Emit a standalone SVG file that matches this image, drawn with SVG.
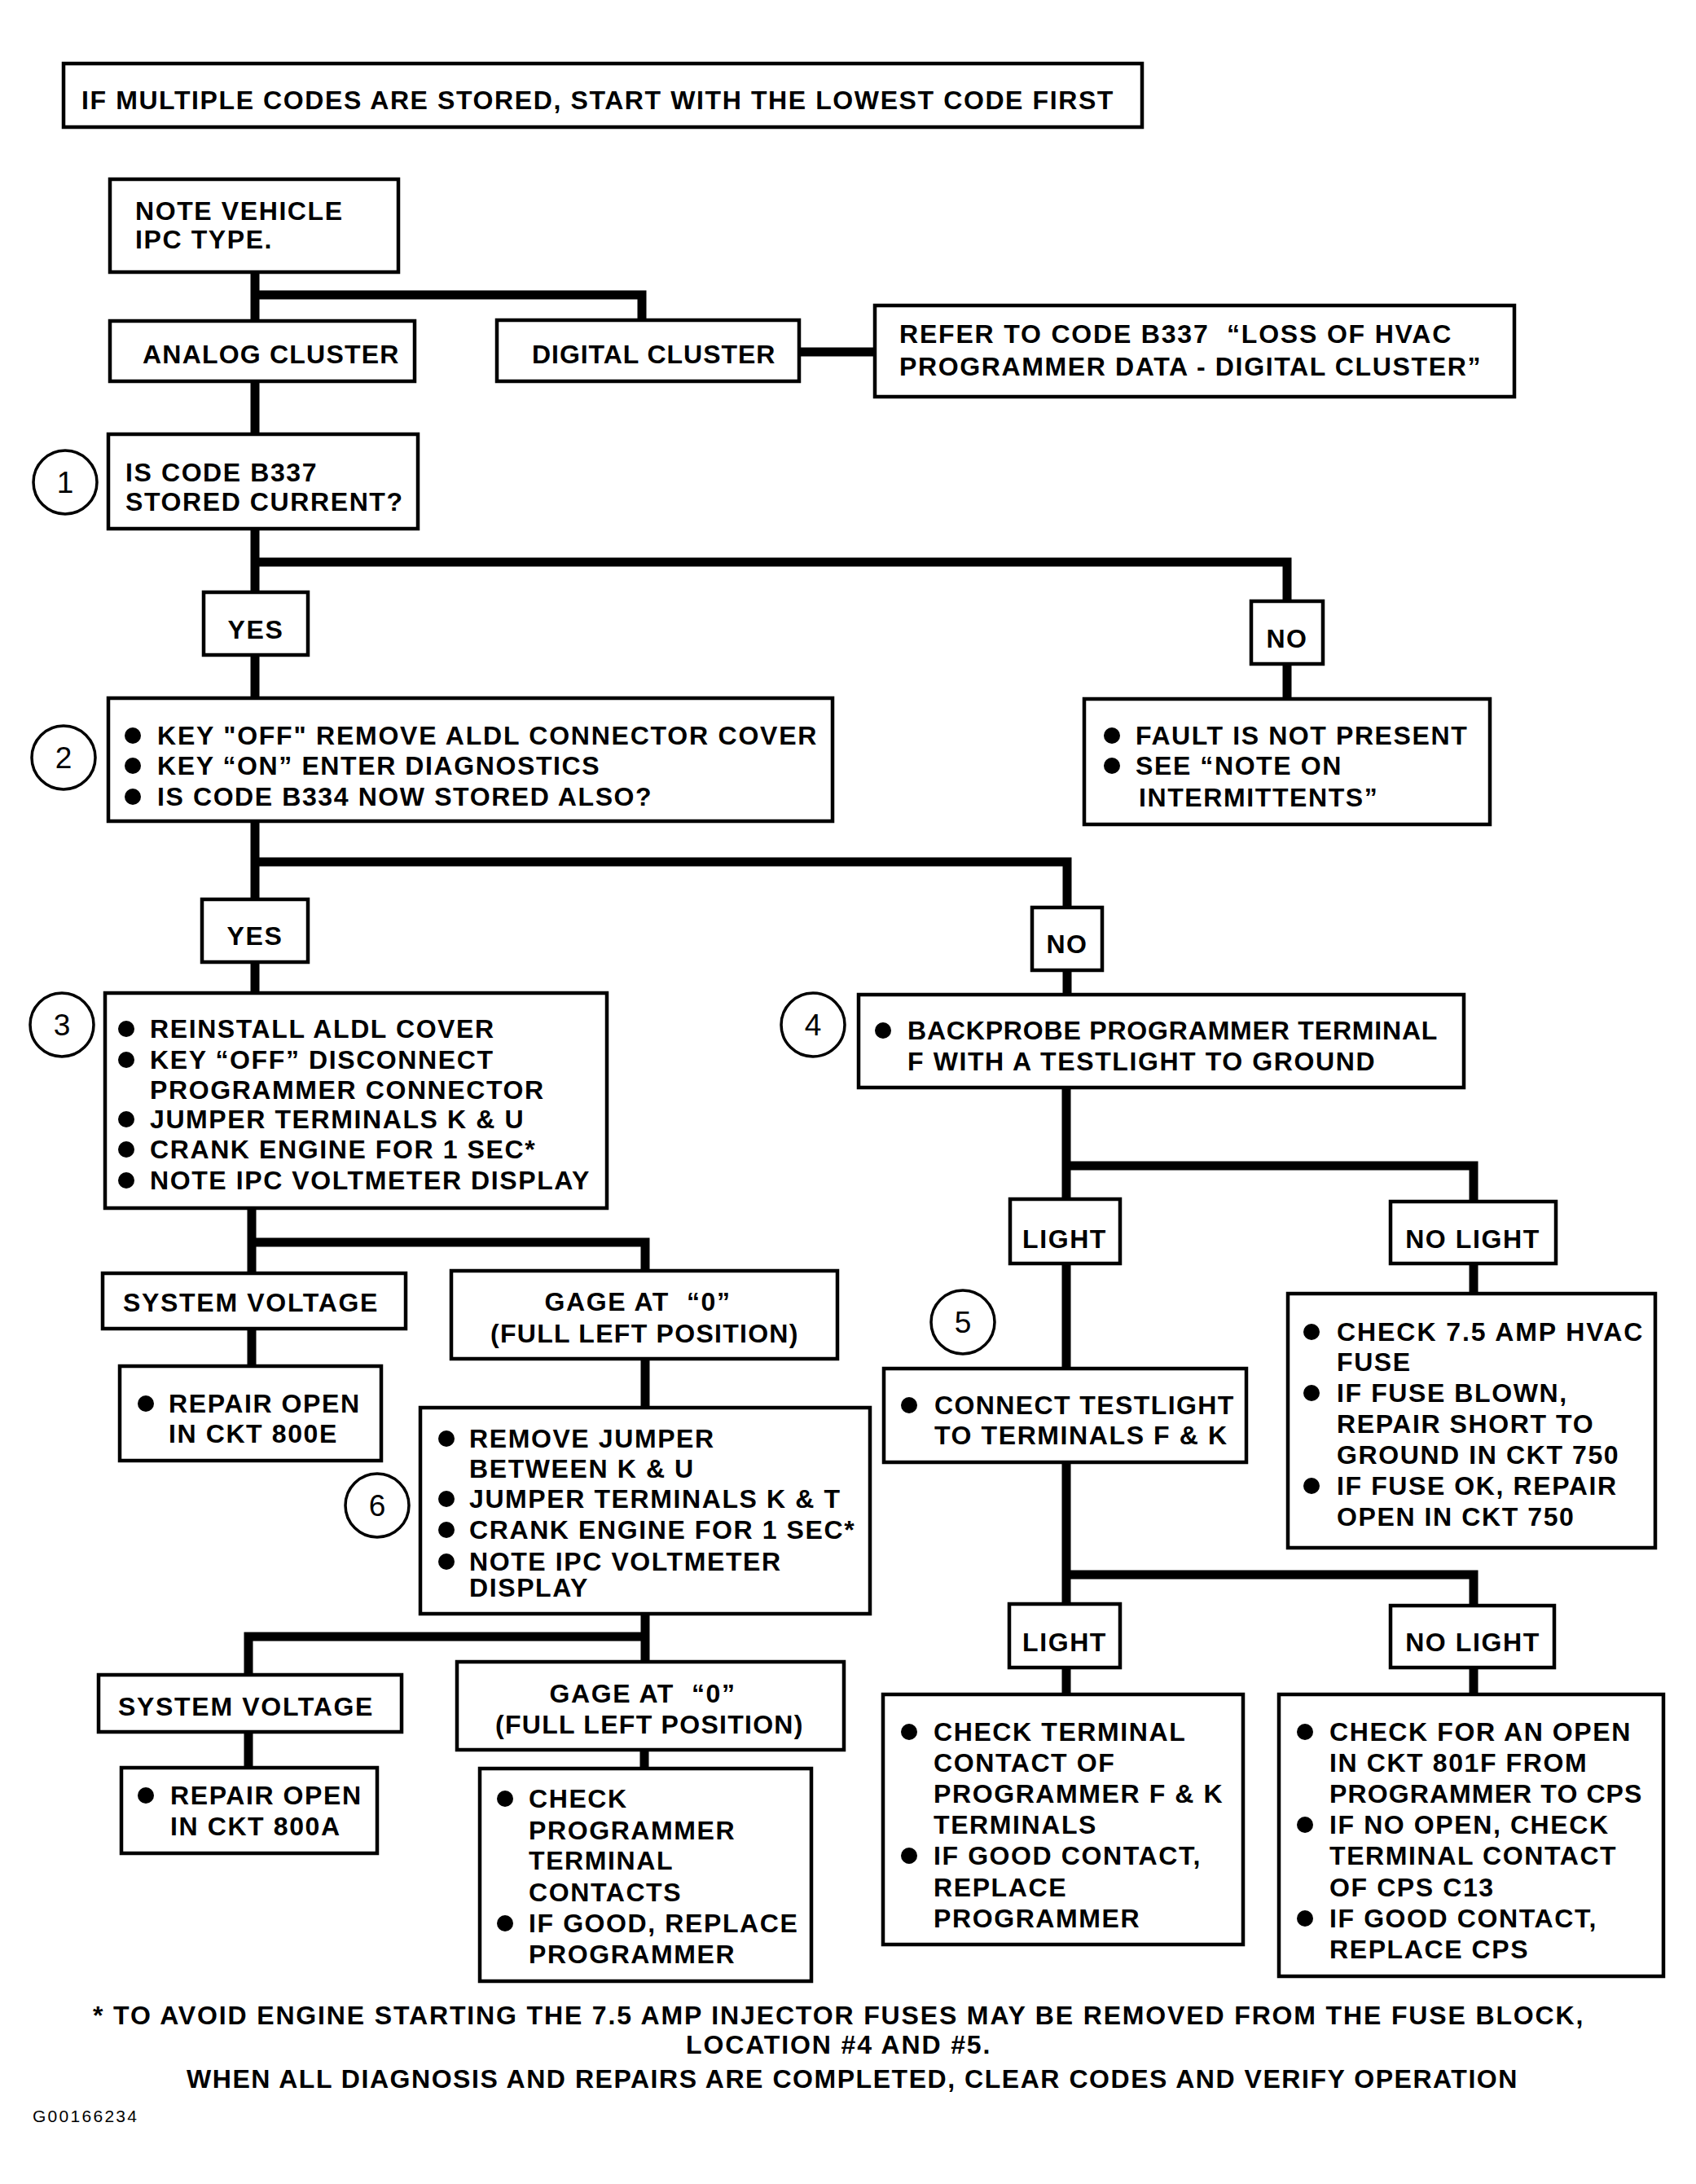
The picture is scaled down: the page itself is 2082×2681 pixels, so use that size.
<svg xmlns="http://www.w3.org/2000/svg" width="2082" height="2681" viewBox="0 0 2082 2681">
<style>
rect.b{fill:#fff;stroke:#000;stroke-width:4.5}
.t{font-family:"Liberation Sans",Arial,sans-serif;font-weight:bold;font-size:32px;letter-spacing:1.6px;fill:#000}
.c{text-anchor:middle}
.n{font-family:"Liberation Sans",Arial,sans-serif;font-size:37px;fill:#000;text-anchor:middle}
circle.s{fill:none;stroke:#000;stroke-width:3.5}
circle.d{fill:#000}
#connectors path{fill:none;stroke:#000;stroke-width:11;stroke-linecap:square;stroke-linejoin:miter}
</style>
<rect width="2082" height="2681" fill="#fff"/>
<g id="connectors">
<path d="M313 334V394M313 362H788V393"/>
<path d="M981 432H1074"/>
<path d="M313 468V533"/>
<path d="M313 649V727M313 690H1580V738"/>
<path d="M313 804V857"/>
<path d="M1580 815V858"/>
<path d="M313 1008V1104M313 1058H1310V1114"/>
<path d="M313 1181V1219"/>
<path d="M1310 1191V1221"/>
<path d="M309 1483V1563M309 1525H792V1560"/>
<path d="M309 1631V1677"/>
<path d="M792 1668V1728"/>
<path d="M792 1981V2040M792 2009H305V2056"/>
<path d="M305 2126V2170"/>
<path d="M791 2148V2171"/>
<path d="M1309 1335V1472M1309 1431H1809V1475"/>
<path d="M1309 1551V1680"/>
<path d="M1809 1551V1588"/>
<path d="M1309 1795V1969M1309 1933H1809V1971"/>
<path d="M1309 2047V2080"/>
<path d="M1809 2047V2080"/>
</g>
<g id="banner"><rect class="b" x="78" y="78" width="1324" height="78"/><text class="t" x="100" y="134" textLength="1268">IF MULTIPLE CODES ARE STORED, START WITH THE LOWEST CODE FIRST</text></g>
<g id="note"><rect class="b" x="135" y="220" width="354" height="114"/><text class="t" x="166" y="270">NOTE VEHICLE</text><text class="t" x="166" y="305">IPC TYPE.</text></g>
<g id="analog"><rect class="b" x="135" y="394" width="374" height="74"/><text class="t" x="175" y="446" textLength="316">ANALOG CLUSTER</text></g>
<g id="digital"><rect class="b" x="610" y="393" width="371" height="75"/><text class="t" x="653" y="446" textLength="300">DIGITAL CLUSTER</text></g>
<g id="refer"><rect class="b" x="1074" y="375" width="785" height="112"/><text class="t" x="1104" y="421" textLength="679">REFER TO CODE B337&#160; “LOSS OF HVAC</text><text class="t" x="1104" y="461" textLength="715">PROGRAMMER DATA - DIGITAL CLUSTER”</text></g>
<g id="step1"><circle class="s" cx="80" cy="592" r="39"/><text class="n" x="80" y="605">1</text><rect class="b" x="133" y="533" width="380" height="116"/><text class="t" x="154" y="591">IS CODE B337</text><text class="t" x="154" y="627">STORED CURRENT?</text></g>
<g id="yes1"><rect class="b" x="250" y="727" width="128" height="77"/><text class="t c" x="314" y="784">YES</text></g>
<g id="no1"><rect class="b" x="1536" y="738" width="88" height="77"/><text class="t c" x="1580" y="795">NO</text></g>
<g id="step2"><circle class="s" cx="78" cy="930" r="39"/><text class="n" x="78" y="943">2</text><rect class="b" x="133" y="857" width="889" height="151"/>
<circle class="d" cx="163" cy="903" r="10"/><text class="t" x="193" y="914" textLength="811">KEY "OFF" REMOVE ALDL CONNECTOR COVER</text>
<circle class="d" cx="163" cy="940" r="10"/><text class="t" x="193" y="951">KEY “ON” ENTER DIAGNOSTICS</text>
<circle class="d" cx="163" cy="978" r="10"/><text class="t" x="193" y="989">IS CODE B334 NOW STORED ALSO?</text></g>
<g id="fault"><rect class="b" x="1331" y="858" width="498" height="154"/>
<circle class="d" cx="1365" cy="903" r="10"/><text class="t" x="1394" y="914">FAULT IS NOT PRESENT</text>
<circle class="d" cx="1365" cy="940" r="10"/><text class="t" x="1394" y="951">SEE “NOTE ON</text>
<text class="t" x="1398" y="990">INTERMITTENTS”</text></g>
<g id="yes2"><rect class="b" x="248" y="1104" width="130" height="77"/><text class="t c" x="313" y="1160">YES</text></g>
<g id="no2"><rect class="b" x="1267" y="1114" width="86" height="77"/><text class="t c" x="1310" y="1170">NO</text></g>
<g id="step3"><circle class="s" cx="76" cy="1258" r="39"/><text class="n" x="76" y="1271">3</text><rect class="b" x="129" y="1219" width="616" height="264"/>
<circle class="d" cx="155" cy="1263" r="10"/><text class="t" x="184" y="1274">REINSTALL ALDL COVER</text>
<circle class="d" cx="155" cy="1301" r="10"/><text class="t" x="184" y="1312">KEY “OFF” DISCONNECT</text>
<text class="t" x="184" y="1349">PROGRAMMER CONNECTOR</text>
<circle class="d" cx="155" cy="1374" r="10"/><text class="t" x="184" y="1385">JUMPER TERMINALS K &amp; U</text>
<circle class="d" cx="155" cy="1411" r="10"/><text class="t" x="184" y="1422">CRANK ENGINE FOR 1 SEC*</text>
<circle class="d" cx="155" cy="1449" r="10"/><text class="t" x="184" y="1460" textLength="541">NOTE IPC VOLTMETER DISPLAY</text></g>
<g id="step4"><circle class="s" cx="998" cy="1258" r="39"/><text class="n" x="998" y="1271">4</text><rect class="b" x="1054" y="1221" width="743" height="114"/>
<circle class="d" cx="1084" cy="1265" r="10"/><text class="t" x="1114" y="1276" textLength="652">BACKPROBE PROGRAMMER TERMINAL</text>
<text class="t" x="1114" y="1314">F WITH A TESTLIGHT TO GROUND</text></g>
<g id="light1"><rect class="b" x="1240" y="1472" width="135" height="79"/><text class="t c" x="1307" y="1532">LIGHT</text></g>
<g id="nolight1"><rect class="b" x="1707" y="1475" width="203" height="76"/><text class="t c" x="1808" y="1532">NO LIGHT</text></g>
<g id="sysvolt1"><rect class="b" x="126" y="1563" width="372" height="68"/><text class="t" x="151" y="1610" textLength="314">SYSTEM VOLTAGE</text></g>
<g id="gage1"><rect class="b" x="554" y="1560" width="474" height="108"/><text class="t c" x="783" y="1609">GAGE AT&#160; “0”</text><text class="t" x="602" y="1648" textLength="379">(FULL LEFT POSITION)</text></g>
<g id="repair800e"><rect class="b" x="147" y="1677" width="321" height="116"/>
<circle class="d" cx="179" cy="1723" r="10"/><text class="t" x="207" y="1734">REPAIR OPEN</text>
<text class="t" x="207" y="1771">IN CKT 800E</text></g>
<g id="step5"><circle class="s" cx="1182" cy="1623" r="39"/><text class="n" x="1182" y="1636">5</text><rect class="b" x="1085" y="1680" width="445" height="115"/>
<circle class="d" cx="1116" cy="1725" r="10"/><text class="t" x="1147" y="1736" textLength="369">CONNECT TESTLIGHT</text>
<text class="t" x="1147" y="1773">TO TERMINALS F &amp; K</text></g>
<g id="check75"><rect class="b" x="1581" y="1588" width="451" height="312"/>
<circle class="d" cx="1610" cy="1635" r="10"/><text class="t" x="1641" y="1646" textLength="377">CHECK 7.5 AMP HVAC</text>
<text class="t" x="1641" y="1683">FUSE</text>
<circle class="d" cx="1610" cy="1710" r="10"/><text class="t" x="1641" y="1721">IF FUSE BLOWN,</text>
<text class="t" x="1641" y="1759">REPAIR SHORT TO</text>
<text class="t" x="1641" y="1797">GROUND IN CKT 750</text>
<circle class="d" cx="1610" cy="1824" r="10"/><text class="t" x="1641" y="1835">IF FUSE OK, REPAIR</text>
<text class="t" x="1641" y="1873">OPEN IN CKT 750</text></g>
<g id="step6"><circle class="s" cx="463" cy="1848" r="39"/><text class="n" x="463" y="1861">6</text><rect class="b" x="516" y="1728" width="552" height="253"/>
<circle class="d" cx="548" cy="1766" r="10"/><text class="t" x="576" y="1777">REMOVE JUMPER</text>
<text class="t" x="576" y="1814">BETWEEN K &amp; U</text>
<circle class="d" cx="548" cy="1840" r="10"/><text class="t" x="576" y="1851">JUMPER TERMINALS K &amp; T</text>
<circle class="d" cx="548" cy="1878" r="10"/><text class="t" x="576" y="1889">CRANK ENGINE FOR 1 SEC*</text>
<circle class="d" cx="548" cy="1917" r="10"/><text class="t" x="576" y="1928">NOTE IPC VOLTMETER</text>
<text class="t" x="576" y="1960">DISPLAY</text></g>
<g id="light2"><rect class="b" x="1239" y="1969" width="136" height="78"/><text class="t c" x="1307" y="2027">LIGHT</text></g>
<g id="nolight2"><rect class="b" x="1707" y="1971" width="201" height="76"/><text class="t c" x="1808" y="2027">NO LIGHT</text></g>
<g id="sysvolt2"><rect class="b" x="121" y="2056" width="372" height="70"/><text class="t" x="145" y="2106" textLength="314">SYSTEM VOLTAGE</text></g>
<g id="gage2"><rect class="b" x="561" y="2040" width="475" height="108"/><text class="t c" x="789" y="2090">GAGE AT&#160; “0”</text><text class="t" x="608" y="2128" textLength="379">(FULL LEFT POSITION)</text></g>
<g id="repair800a"><rect class="b" x="149" y="2170" width="314" height="105"/>
<circle class="d" cx="179" cy="2204" r="10"/><text class="t" x="209" y="2215">REPAIR OPEN</text>
<text class="t" x="209" y="2253">IN CKT 800A</text></g>
<g id="checkprog"><rect class="b" x="589" y="2171" width="407" height="261"/>
<circle class="d" cx="620" cy="2208" r="10"/><text class="t" x="649" y="2219">CHECK</text>
<text class="t" x="649" y="2258">PROGRAMMER</text>
<text class="t" x="649" y="2295">TERMINAL</text>
<text class="t" x="649" y="2334">CONTACTS</text>
<circle class="d" cx="620" cy="2361" r="10"/><text class="t" x="649" y="2372">IF GOOD, REPLACE</text>
<text class="t" x="649" y="2410">PROGRAMMER</text></g>
<g id="checkterm"><rect class="b" x="1084" y="2080" width="442" height="307"/>
<circle class="d" cx="1116" cy="2126" r="10"/><text class="t" x="1146" y="2137">CHECK TERMINAL</text>
<text class="t" x="1146" y="2175">CONTACT OF</text>
<text class="t" x="1146" y="2213">PROGRAMMER F &amp; K</text>
<text class="t" x="1146" y="2251">TERMINALS</text>
<circle class="d" cx="1116" cy="2278" r="10"/><text class="t" x="1146" y="2289">IF GOOD CONTACT,</text>
<text class="t" x="1146" y="2328">REPLACE</text>
<text class="t" x="1146" y="2366">PROGRAMMER</text></g>
<g id="checkfor"><rect class="b" x="1570" y="2080" width="472" height="346"/>
<circle class="d" cx="1602" cy="2126" r="10"/><text class="t" x="1632" y="2137">CHECK FOR AN OPEN</text>
<text class="t" x="1632" y="2175">IN CKT 801F FROM</text>
<text class="t" x="1632" y="2213" textLength="385">PROGRAMMER TO CPS</text>
<circle class="d" cx="1602" cy="2240" r="10"/><text class="t" x="1632" y="2251">IF NO OPEN, CHECK</text>
<text class="t" x="1632" y="2289">TERMINAL CONTACT</text>
<text class="t" x="1632" y="2328">OF CPS C13</text>
<circle class="d" cx="1602" cy="2355" r="10"/><text class="t" x="1632" y="2366">IF GOOD CONTACT,</text>
<text class="t" x="1632" y="2404">REPLACE CPS</text></g>
<g id="footer">
<text class="t" x="114" y="2485" textLength="1831">* TO AVOID ENGINE STARTING THE 7.5 AMP INJECTOR FUSES MAY BE REMOVED FROM THE FUSE BLOCK,</text>
<text class="t" x="842" y="2521" textLength="375">LOCATION #4 AND #5.</text>
<text class="t" x="229" y="2563" textLength="1635">WHEN ALL DIAGNOSIS AND REPAIRS ARE COMPLETED, CLEAR CODES AND VERIFY OPERATION</text>
<text x="40" y="2605" textLength="128" style="font-family:'Liberation Sans',Arial,sans-serif;font-size:21px;fill:#000">G00166234</text>
</g>
</svg>
